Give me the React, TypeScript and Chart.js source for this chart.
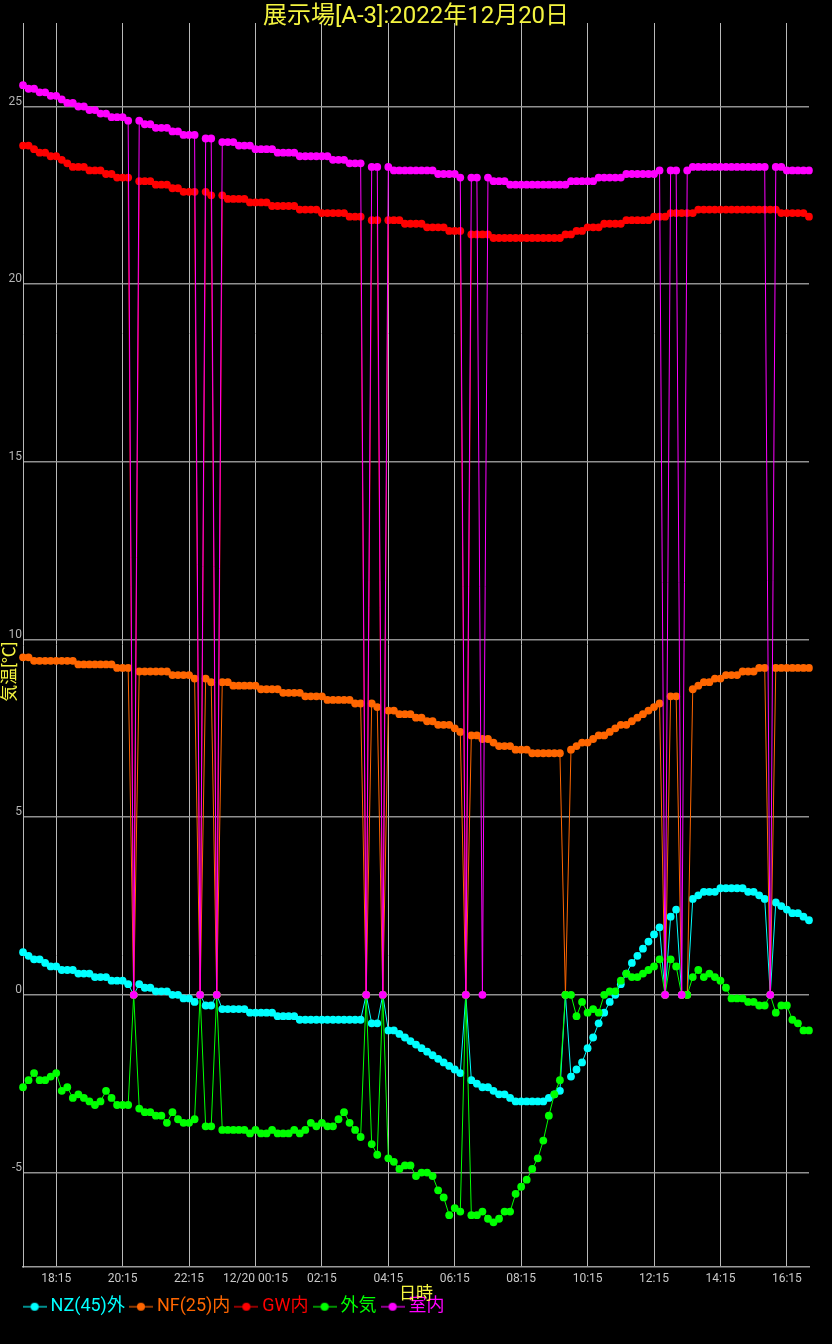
import React, { useEffect, useRef } from 'react';
import { Chart, registerables } from 'chart.js';

Chart.register(...registerables);

const FONT = 'Roboto, "Noto Sans CJK JP", sans-serif';
const YELLOW = '#f4f440';

const TITLE = '展示場[A-3]:2022年12月20日';
const Y_TITLE = '気温[℃]';
const X_TITLE = '日時';

// 10-minute samples starting 17:15
const START_MINUTES = 17 * 60 + 15;
const STEP_MINUTES = 10;
const POINT_COUNT = 143;
const categories: string[] = Array.from({ length: POINT_COUNT }, (_, i) => {
  const m = (START_MINUTES + i * STEP_MINUTES) % 1440;
  const hh = String(Math.floor(m / 60)).padStart(2, '0');
  const mm = String(m % 60).padStart(2, '0');
  return `${hh}:${mm}`;
});

const tickLabels = ['18:15', '20:15', '22:15', '12/20 00:15', '02:15', '04:15', '06:15', '08:15', '10:15', '12:15', '14:15', '16:15'];
const FIRST_TICK = 6;
const TICK_EVERY = 12;

const yTicks = [-5, 0, 5, 10, 15, 20, 25];
const Y_MIN = -7.65;
const Y_MAX = 27.35;

const seriesNames = ['NZ(45)外', 'NF(25)内', 'GW内', '外気', '室内'];
const seriesColors = ['#00ffff', '#ff6600', '#ff0000', '#00ff00', '#ff00ff'];

const nz45: number[] = [
  1.2, 1.1, 1.0, 1.0, 0.9, 0.8, 0.8, 0.7, 0.7, 0.7,
  0.6, 0.6, 0.6, 0.5, 0.5, 0.5, 0.4, 0.4, 0.4, 0.3,
  0, 0.3, 0.2, 0.2, 0.1, 0.1, 0.1, 0.0, 0.0, -0.1,
  -0.1, -0.2, 0, -0.3, -0.3, 0, -0.4, -0.4, -0.4, -0.4,
  -0.4, -0.5, -0.5, -0.5, -0.5, -0.5, -0.6, -0.6, -0.6, -0.6,
  -0.7, -0.7, -0.7, -0.7, -0.7, -0.7, -0.7, -0.7, -0.7, -0.7,
  -0.7, -0.7, 0, -0.8, -0.8, 0, -1.0, -1.0, -1.1, -1.2,
  -1.3, -1.4, -1.5, -1.6, -1.7, -1.8, -1.9, -2.0, -2.1, -2.2,
  0, -2.4, -2.5, -2.6, -2.6, -2.7, -2.8, -2.8, -2.9, -3.0,
  -3.0, -3.0, -3.0, -3.0, -3.0, -2.9, -2.8, -2.7, 0, -2.3,
  -2.1, -1.9, -1.5, -1.2, -0.8, -0.5, -0.2, 0.0, 0.3, 0.6,
  0.9, 1.1, 1.3, 1.5, 1.7, 1.9, 0, 2.2, 2.4, 0,
  0, 2.7, 2.8, 2.9, 2.9, 2.9, 3.0, 3.0, 3.0, 3.0,
  3.0, 2.9, 2.9, 2.8, 2.7, 0, 2.6, 2.5, 2.4, 2.3,
  2.3, 2.2, 2.1,
];

const nf25: number[] = [
  9.5, 9.5, 9.4, 9.4, 9.4, 9.4, 9.4, 9.4, 9.4, 9.4,
  9.3, 9.3, 9.3, 9.3, 9.3, 9.3, 9.3, 9.2, 9.2, 9.2,
  0, 9.1, 9.1, 9.1, 9.1, 9.1, 9.1, 9.0, 9.0, 9.0,
  9.0, 8.9, 0, 8.9, 8.8, 0, 8.8, 8.8, 8.7, 8.7,
  8.7, 8.7, 8.7, 8.6, 8.6, 8.6, 8.6, 8.5, 8.5, 8.5,
  8.5, 8.4, 8.4, 8.4, 8.4, 8.3, 8.3, 8.3, 8.3, 8.3,
  8.2, 8.2, 0, 8.2, 8.1, 0, 8.0, 8.0, 7.9, 7.9,
  7.9, 7.8, 7.8, 7.7, 7.7, 7.6, 7.6, 7.6, 7.5, 7.4,
  0, 7.3, 7.3, 7.2, 7.2, 7.1, 7.0, 7.0, 7.0, 6.9,
  6.9, 6.9, 6.8, 6.8, 6.8, 6.8, 6.8, 6.8, 0, 6.9,
  7.0, 7.1, 7.1, 7.2, 7.3, 7.3, 7.4, 7.5, 7.6, 7.6,
  7.7, 7.8, 7.9, 8.0, 8.1, 8.2, 0, 8.4, 8.4, 0,
  0, 8.6, 8.7, 8.8, 8.8, 8.9, 8.9, 9.0, 9.0, 9.0,
  9.1, 9.1, 9.1, 9.2, 9.2, 0, 9.2, 9.2, 9.2, 9.2,
  9.2, 9.2, 9.2,
];

const gwIn: number[] = [
  23.9, 23.9, 23.8, 23.7, 23.7, 23.6, 23.6, 23.5, 23.4, 23.3,
  23.3, 23.3, 23.2, 23.2, 23.2, 23.1, 23.1, 23.0, 23.0, 23.0,
  0, 22.9, 22.9, 22.9, 22.8, 22.8, 22.8, 22.7, 22.7, 22.6,
  22.6, 22.6, 0, 22.6, 22.5, 0, 22.5, 22.4, 22.4, 22.4,
  22.4, 22.3, 22.3, 22.3, 22.3, 22.2, 22.2, 22.2, 22.2, 22.2,
  22.1, 22.1, 22.1, 22.1, 22.0, 22.0, 22.0, 22.0, 22.0, 21.9,
  21.9, 21.9, 0, 21.8, 21.8, 0, 21.8, 21.8, 21.8, 21.7,
  21.7, 21.7, 21.7, 21.6, 21.6, 21.6, 21.6, 21.5, 21.5, 21.5,
  0, 21.4, 21.4, 21.4, 21.4, 21.3, 21.3, 21.3, 21.3, 21.3,
  21.3, 21.3, 21.3, 21.3, 21.3, 21.3, 21.3, 21.3, 21.4, 21.4,
  21.5, 21.5, 21.6, 21.6, 21.6, 21.7, 21.7, 21.7, 21.7, 21.8,
  21.8, 21.8, 21.8, 21.8, 21.9, 21.9, 21.9, 22.0, 22.0, 22.0,
  22.0, 22.0, 22.1, 22.1, 22.1, 22.1, 22.1, 22.1, 22.1, 22.1,
  22.1, 22.1, 22.1, 22.1, 22.1, 22.1, 22.1, 22.0, 22.0, 22.0,
  22.0, 22.0, 21.9,
];

const outdoor: number[] = [
  -2.6, -2.4, -2.2, -2.4, -2.4, -2.3, -2.2, -2.7, -2.6, -2.9,
  -2.8, -2.9, -3.0, -3.1, -3.0, -2.7, -2.9, -3.1, -3.1, -3.1,
  0, -3.2, -3.3, -3.3, -3.4, -3.4, -3.6, -3.3, -3.5, -3.6,
  -3.6, -3.5, 0, -3.7, -3.7, 0, -3.8, -3.8, -3.8, -3.8,
  -3.8, -3.9, -3.8, -3.9, -3.9, -3.8, -3.9, -3.9, -3.9, -3.8,
  -3.9, -3.8, -3.6, -3.7, -3.6, -3.7, -3.7, -3.5, -3.3, -3.6,
  -3.8, -4.0, 0, -4.2, -4.5, 0, -4.6, -4.7, -4.9, -4.8,
  -4.8, -5.1, -5.0, -5.0, -5.1, -5.5, -5.7, -6.2, -6.0, -6.1,
  0, -6.2, -6.2, -6.1, -6.3, -6.4, -6.3, -6.1, -6.1, -5.6,
  -5.4, -5.2, -4.9, -4.6, -4.1, -3.4, -2.8, -2.4, 0, 0.0,
  -0.6, -0.2, -0.5, -0.4, -0.5, 0.0, 0.1, 0.1, 0.4, 0.6,
  0.5, 0.5, 0.6, 0.7, 0.8, 1.0, 0, 1.0, 0.8, 0,
  0, 0.5, 0.7, 0.5, 0.6, 0.5, 0.4, 0.2, -0.1, -0.1,
  -0.1, -0.2, -0.2, -0.3, -0.3, 0, -0.5, -0.3, -0.3, -0.7,
  -0.8, -1.0, -1.0,
];

const indoor: number[] = [
  25.6, 25.5, 25.5, 25.4, 25.4, 25.3, 25.3, 25.2, 25.1, 25.1,
  25.0, 25.0, 24.9, 24.9, 24.8, 24.8, 24.7, 24.7, 24.7, 24.6,
  0, 24.6, 24.5, 24.5, 24.4, 24.4, 24.4, 24.3, 24.3, 24.2,
  24.2, 24.2, 0, 24.1, 24.1, 0, 24.0, 24.0, 24.0, 23.9,
  23.9, 23.9, 23.8, 23.8, 23.8, 23.8, 23.7, 23.7, 23.7, 23.7,
  23.6, 23.6, 23.6, 23.6, 23.6, 23.6, 23.5, 23.5, 23.5, 23.4,
  23.4, 23.4, 0, 23.3, 23.3, 0, 23.3, 23.2, 23.2, 23.2,
  23.2, 23.2, 23.2, 23.2, 23.2, 23.1, 23.1, 23.1, 23.1, 23.0,
  0, 23.0, 23.0, 0, 23.0, 22.9, 22.9, 22.9, 22.8, 22.8,
  22.8, 22.8, 22.8, 22.8, 22.8, 22.8, 22.8, 22.8, 22.8, 22.9,
  22.9, 22.9, 22.9, 22.9, 23.0, 23.0, 23.0, 23.0, 23.0, 23.1,
  23.1, 23.1, 23.1, 23.1, 23.1, 23.2, 0, 23.2, 23.2, 0,
  23.2, 23.3, 23.3, 23.3, 23.3, 23.3, 23.3, 23.3, 23.3, 23.3,
  23.3, 23.3, 23.3, 23.3, 23.3, 0, 23.3, 23.3, 23.2, 23.2,
  23.2, 23.2, 23.2,
];

const seriesValues = [nz45, nf25, gwIn, outdoor, indoor];

function makeMarker(color: string): HTMLCanvasElement {
  const c = document.createElement('canvas');
  c.width = 24;
  c.height = 10;
  const g = c.getContext('2d')!;
  g.strokeStyle = color;
  g.globalAlpha = 0.75;
  g.lineWidth = 1.5;
  g.beginPath();
  g.moveTo(0, 5);
  g.lineTo(24, 5);
  g.stroke();
  g.globalAlpha = 1;
  g.fillStyle = color;
  g.beginPath();
  g.arc(12, 5, 4, 0, Math.PI * 2);
  g.fill();
  return c;
}

const LEGEND_LEFT = 18.6;

const textPlugin = {
  id: 'customTexts',
  afterLayout(chart: any) {
    const lg = chart.legend;
    if (lg) {
      const dx = LEGEND_LEFT - lg.left;
      lg.left += dx;
      lg.right += dx;
    }
  },
  beforeDraw(chart: any) {
    const ctx = chart.ctx;
    ctx.save();
    ctx.fillStyle = '#000';
    ctx.fillRect(0, 0, chart.width, chart.height);
    ctx.restore();
  },
  afterDraw(chart: any) {
    const ctx = chart.ctx;
    const area = chart.chartArea;
    const cx = (area.left + area.right) / 2;
    ctx.save();
    ctx.fillStyle = YELLOW;
    ctx.textAlign = 'center';
    ctx.textBaseline = 'middle';
    ctx.font = `24px ${FONT}`;
    ctx.fillText(TITLE, chart.width / 2, 17);
    ctx.font = `17px ${FONT}`;
    ctx.fillText(X_TITLE, cx, area.bottom + 28);
    ctx.translate(11, (area.top + area.bottom) / 2 + 27);
    ctx.rotate(-Math.PI / 2);
    ctx.fillText(Y_TITLE, 0, 0);
    ctx.restore();
  },
};

export default function App() {
  const canvasRef = useRef<HTMLCanvasElement | null>(null);

  useEffect(() => {
    if (!canvasRef.current) return;
    const markers = seriesColors.map(makeMarker);
    const datasets = seriesNames.map((name, i) => ({
      label: name,
      data: seriesValues[i],
      borderColor: seriesColors[i],
      backgroundColor: seriesColors[i],
      pointBackgroundColor: seriesColors[i],
      pointBorderWidth: 0,
      pointRadius: 3.9,
      pointHoverRadius: 3.9,
      borderWidth: 1,
      tension: 0,
      order: seriesNames.length - i,
    }));

    const chart = new Chart(canvasRef.current, {
      type: 'line',
      data: { labels: categories, datasets },
      options: {
        responsive: false,
        animation: false,
        devicePixelRatio: 1,
        events: [],
        layout: { padding: { top: 23, left: 0, right: 23, bottom: 18.3 } },
        plugins: {
          title: { display: false },
          tooltip: { enabled: false },
          legend: {
            position: 'bottom',
            align: 'start',
            labels: {
              usePointStyle: true,
              pointStyleWidth: 14,
              padding: 9,
              font: { size: 18, family: FONT },
              generateLabels: (ch: any) =>
                ch.data.datasets.map((ds: any, i: number) => ({
                  text: ds.label,
                  fontColor: seriesColors[i],
                  pointStyle: markers[i],
                  datasetIndex: i,
                  hidden: false,
                  lineWidth: 0,
                  strokeStyle: 'rgba(0,0,0,0)',
                  fillStyle: 'rgba(0,0,0,0)',
                })),
            },
          },
        },
        scales: {
          x: {
            type: 'category',
            ticks: {
              autoSkip: false,
              maxRotation: 0,
              minRotation: 0,
              padding: 5,
              color: '#c8c8c8',
              font: { size: 12, family: FONT },
              callback: (_v: any, i: number) =>
                i >= FIRST_TICK && (i - FIRST_TICK) % TICK_EVERY === 0
                  ? tickLabels[(i - FIRST_TICK) / TICK_EVERY] ?? ''
                  : '',
            },
            grid: {
              color: (c: any) =>
                c.index >= FIRST_TICK && (c.index - FIRST_TICK) % TICK_EVERY === 0
                  ? 'rgba(205,205,205,0.9)'
                  : 'rgba(0,0,0,0)',
              lineWidth: 1,
              drawTicks: false,
            },
            border: { color: '#9a9a9a', width: 1.5 },
            afterFit: (s: any) => {
              s.height = 22;
            },
          },
          y: {
            min: Y_MIN,
            max: Y_MAX,
            afterBuildTicks: (s: any) => {
              s.ticks = yTicks.map((v) => ({ value: v }));
            },
            ticks: {
              padding: 1,
              labelOffset: -5,
              color: '#b4b4b4',
              font: { size: 12, family: FONT },
              callback: (v: any) => String(v),
            },
            grid: { color: 'rgba(160,160,160,0.9)', lineWidth: 1.5, drawTicks: false },
            border: { color: 'rgba(205,205,205,0.9)', width: 1 },
            afterFit: (s: any) => {
              s.width = 23;
            },
          },
        },
      } as any,
      plugins: [textPlugin],
    });
    return () => chart.destroy();
  }, []);

  return (
    <div style={{ width: 832, height: 1344, background: '#000' }}>
      <style>{'body{margin:0;background:#000;}'}</style>
      <canvas ref={canvasRef} width={832} height={1344} style={{ display: 'block' }} />
    </div>
  );
}
